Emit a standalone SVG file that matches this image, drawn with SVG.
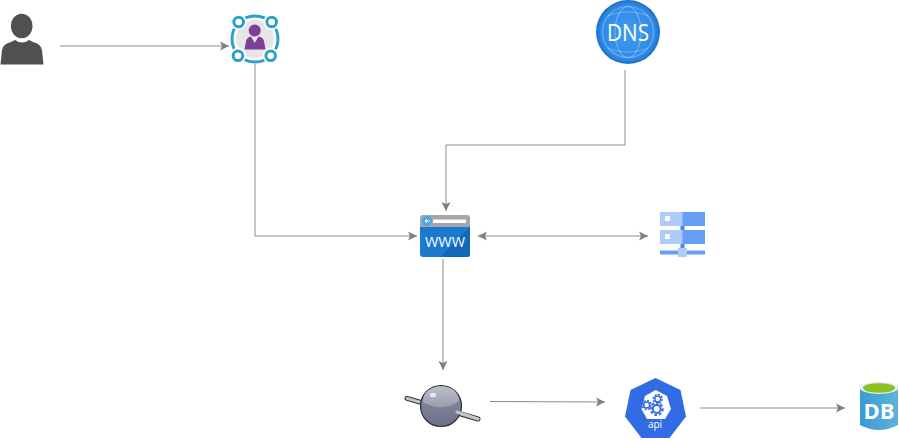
<svg xmlns="http://www.w3.org/2000/svg" width="899" height="441" viewBox="0 0 899 441">
<style>
.c{fill:none;stroke:#8c8c8c;stroke-width:1}
.t{font-family:"Open Sans","Liberation Sans",sans-serif;fill:#fff;text-anchor:middle}
.g{fill:none;stroke:#fff;stroke-opacity:.28;stroke-width:1.200}
.k{fill:none;stroke:#326ce5}
</style>
<defs>
<marker id="a" markerUnits="userSpaceOnUse" markerWidth="10" markerHeight="10" refX="9" refY="5" orient="auto-start-reverse"><path d="M0 0.500L9 5L0 9.500L2 5Z" fill="#808080"/></marker>
<radialGradient id="dns" cx=".5" cy=".5" r=".5"><stop offset="0" stop-color="#3f9bf0"/><stop offset=".85" stop-color="#2f8ae6"/><stop offset="1" stop-color="#1c6fc8"/></radialGradient>
<linearGradient id="ball" x1="0" x2="0" y1="0" y2="1"><stop offset="0" stop-color="#8e91a6"/><stop offset="1" stop-color="#6a6f88"/></linearGradient>
<linearGradient id="top" x1="0" x2="0" y1="0" y2="1"><stop offset="0" stop-color="#bcbec9"/><stop offset="1" stop-color="#9a9db0"/></linearGradient>
<linearGradient id="db" x1="0" x2="1" y1="0" y2="0"><stop offset="0" stop-color="#3a9bd0"/><stop offset="1" stop-color="#5cb4de"/></linearGradient>
</defs>
<rect width="899" height="441" fill="#fff"/>
<g id="connectors">
<path class="c" d="M60 46H229" marker-end="url(#a)"/>
<path class="c" d="M255 64V236H417" marker-end="url(#a)"/>
<path class="c" d="M625 70V145H446V211" marker-end="url(#a)"/>
<path class="c" d="M478 236H648" marker-start="url(#a)" marker-end="url(#a)"/>
<path class="c" d="M443 259V370" marker-end="url(#a)"/>
<path class="c" d="M490 401.500L605 402" marker-end="url(#a)"/>
<path class="c" d="M700 408H845" marker-end="url(#a)"/>
</g>
<g id="user">
<ellipse cx="21.700" cy="26" rx="10.800" ry="12.200" fill="#505050"/>
<path d="M0.500 64.500L2 50Q3 44 11 42L15 40Q22 45 29 40L33 42Q41 44 42 50L43.500 64.500Z" fill="#505050"/>
</g>
<g id="identity">
<circle cx="255" cy="39" r="19" fill="#e6e6e8"/>
<circle cx="255" cy="39" r="23" fill="none" stroke="#2e9fc9" stroke-width="3"/>
<g fill="#fff"><circle cx="238.700" cy="22" r="8"/><circle cx="271.700" cy="22" r="8"/><circle cx="238" cy="55.700" r="8"/><circle cx="270.700" cy="55.700" r="8"/></g>
<g fill="#fff" stroke="#2e9fc9" stroke-width="3"><circle cx="238.700" cy="22" r="4.800"/><circle cx="271.700" cy="22" r="4.800"/><circle cx="238" cy="55.700" r="4.800"/><circle cx="270.700" cy="55.700" r="4.800"/></g>
<circle cx="254.700" cy="30.500" r="6" fill="#7f3f98"/>
<path d="M244.500 49.500L246 41Q247 37 251 36.500L254.700 43L258.500 36.500Q263 37 264 41L265.500 49.500Z" fill="#7f3f98"/>
</g>
<g id="dns-node">
<circle cx="628" cy="32" r="32" fill="url(#dns)"/>
<circle cx="628" cy="32" r="25.500" class="g"/>
<ellipse cx="628" cy="32" rx="13" ry="25.500" class="g"/>
<path class="g" d="M608 16Q628 8 648 16M608 48Q628 56 648 48"/>
<text class="t" x="628" y="40.500" font-size="23" textLength="42" lengthAdjust="spacingAndGlyphs">DNS</text>
</g>
<g id="www">
<path d="M420 218a3 3 0 0 1 3-3h44a3 3 0 0 1 3 3v9h-50z" fill="#a6a6a6"/>
<path d="M420 227h50v27a3 3 0 0 1-3 3h-44a3 3 0 0 1-3-3z" fill="#1a7ad0"/>
<path d="M440 257L470 227V254a3 3 0 0 1-3 3z" fill="#1068b8"/>
<circle cx="427" cy="221" r="5" fill="#4aa8e0"/>
<path d="M430 221H425M427 219L425 221L427 223" fill="none" stroke="#fff" stroke-width="1"/>
<rect x="433" y="219.500" width="33" height="3.500" fill="#fff"/>
<text class="t" x="445" y="247" font-size="14" textLength="40" lengthAdjust="spacingAndGlyphs">WWW</text>
</g>
<g id="servers">
<rect x="680" y="212" width="25" height="14" fill="#669df6"/>
<rect x="660" y="212" width="22.500" height="14" fill="#aecbfa"/>
<rect x="680" y="230" width="25" height="14" fill="#669df6"/>
<rect x="660" y="230" width="22.500" height="14" fill="#aecbfa"/>
<rect x="665" y="216" width="5" height="5" fill="#fff"/>
<rect x="665" y="234" width="5" height="5" fill="#fff"/>
<rect x="680.500" y="226" width="4" height="4" fill="#4285f4"/>
<rect x="680.500" y="244" width="4" height="6" fill="#4285f4"/>
<rect x="660" y="250.500" width="45" height="4" fill="#669df6"/>
<rect x="678" y="248" width="9" height="9" fill="#aecbfa"/>
</g>
<g id="gateway">
<path d="M407 398.300L478 419" stroke="#33363f" stroke-width="5" stroke-linecap="round"/>
<path d="M407 398.300L478 419" stroke="#c4c6ce" stroke-width="2.800" stroke-linecap="round"/>
<circle cx="441" cy="406" r="20.500" fill="url(#ball)" stroke="#2e3038" stroke-width="1.200"/>
<path d="M423 402Q423 387 441 386.500Q458 387 459 401Q442 413 423 402Z" fill="url(#top)"/>
<ellipse cx="433" cy="395" rx="3" ry="2.200" fill="#e6e7ee"/>
<path d="M457 412L478 419" stroke="#c4c6ce" stroke-width="3" stroke-linecap="round"/>
</g>
<g id="api">
<path d="M655.500 378L680.500 390L686 416.500L669.500 438H641.500L625 416.500L630.500 390Z" fill="#326ce5"/>
<path d="M655.700 390L667 396L671 409L665 419H647L641.500 409L645 396Z" fill="#fff"/>
<circle class="k" cx="646.700" cy="405" r="3" stroke-width="1.500"/>
<circle class="k" cx="646.700" cy="405" r="4.500" stroke-width="1.500" stroke-dasharray="2 1.500"/>
<circle class="k" cx="657.700" cy="399" r="3" stroke-width="1.500"/>
<circle class="k" cx="657.700" cy="399" r="4.500" stroke-width="1.500" stroke-dasharray="2 1.500"/>
<circle cx="656.700" cy="409" r="6" fill="#fff"/>
<circle class="k" cx="656.700" cy="409" r="4" stroke-width="2"/>
<circle class="k" cx="656.700" cy="409" r="6" stroke-width="2" stroke-dasharray="2.500 2"/>
<text class="t" x="655" y="427.500" font-size="10">api</text>
</g>
<g id="db">
<path d="M860 388V425Q879 435 898 425V388Z" fill="url(#db)"/>
<ellipse cx="879" cy="388" rx="19" ry="6" fill="#e6edf0"/>
<ellipse cx="879" cy="388" rx="16" ry="4.800" fill="#8cc11f"/>
<text x="879" y="418.500" font-family="'Open Sans','Liberation Sans',sans-serif" font-weight="700" font-size="22" fill="#fff" text-anchor="middle">DB</text>
</g>
</svg>
